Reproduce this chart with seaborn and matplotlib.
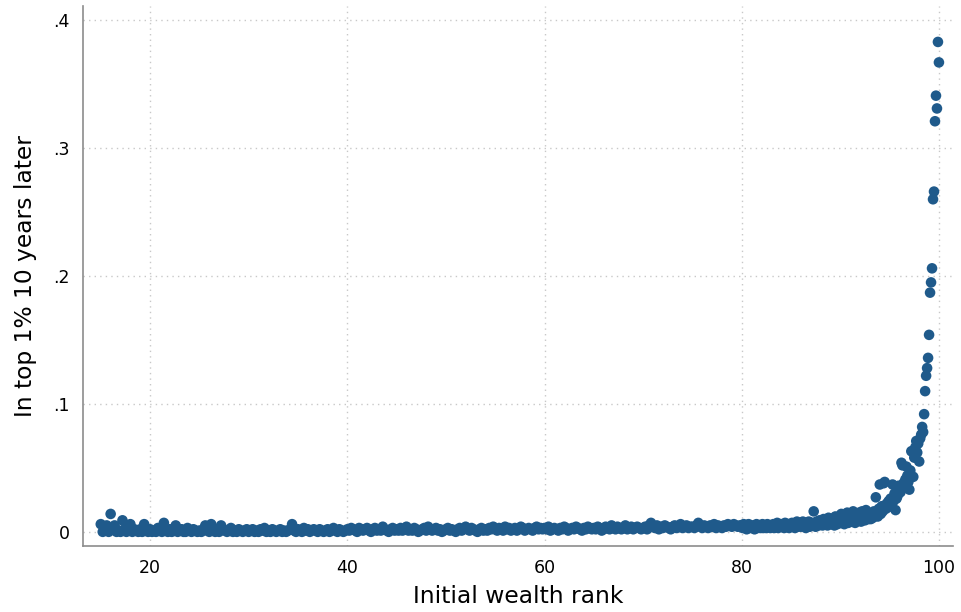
import numpy as np
import pandas as pd
import matplotlib
matplotlib.use("Agg")
import matplotlib.pyplot as plt
import seaborn as sns

# share in top 1% ten years later, in thousandths
# ranks 15.0 - 79.8, every 0.2
low_ranks = np.round(np.arange(15.0, 79.9, 0.2), 1)
low_share = [
    6, 0, 3, 5, 0, 14, 2, 5, 0, 1, 0, 9, 2, 0, 1, 6, 0, 2, 1, 0, 2, 0, 6, 1, 0,
    2, 0, 1, 0, 3, 1, 0, 7, 1, 0, 2, 0, 1, 5, 0, 1, 2, 0, 0, 3, 1, 0, 2, 1, 0,
    1, 0, 2, 5, 1, 0, 6, 2, 0, 1, 0, 5, 2, 1, 0, 1, 3, 0, 1, 0, 2, 1, 0, 1, 2,
    0, 1, 2, 0, 1, 0, 2, 1, 3, 0, 1, 0, 2, 1, 0, 1, 2, 0, 1, 0, 1, 2, 6, 1, 0,
    2, 1, 0, 3, 1, 2, 0, 1, 2, 1, 0, 2, 1, 0, 1, 2, 0, 1, 3, 1, 0, 2, 1, 0, 1,
    2, 1, 3, 2, 1, 0, 3, 2, 1, 2, 3, 1, 0, 2, 3, 1, 2, 1, 4, 2, 1, 0, 2, 3, 1,
    2, 1, 3, 1, 2, 4, 1, 2, 1, 3, 2, 0, 1, 2, 3, 1, 4, 2, 1, 2, 3, 1, 2, 0, 1,
    2, 3, 1, 2, 1, 0, 2, 3, 1, 2, 4, 2, 1, 3, 2, 1, 0, 2, 3, 1, 2, 1, 3, 2, 4,
    2, 1, 3, 2, 1, 4, 2, 3, 1, 2, 3, 1, 2, 4, 3, 1, 2, 3, 2, 1, 3, 4, 2, 3, 2,
    3, 2, 4, 1, 2, 3, 2, 1, 3, 2, 4, 3, 1, 2, 3, 2, 4, 3, 2, 1, 3, 2, 4, 3, 2,
    3, 2, 4, 3, 1, 2, 4, 3, 2, 5, 3, 2, 4, 3, 2, 3, 5, 2, 3, 4, 2, 3, 4, 3, 2,
    3, 4, 2, 5, 7, 4, 3, 5, 2, 4, 3, 5, 4, 3, 2, 4, 5, 3, 4, 6, 3, 4, 5, 3, 4,
    4, 3, 5, 7, 4, 3, 5, 4, 3, 5, 4, 6, 3, 5, 4, 3, 5, 4, 6, 5, 4, 6, 5, 4, 5,
]

# ranks 80.0 - 100.0, every 0.1
high_ranks = np.round(np.arange(80.0, 100.05, 0.1), 1)
high_share = [
    5, 3, 6, 4, 5, 2, 4, 6, 3, 5,
    4, 3, 5, 2, 4, 6, 3, 4, 5, 3,
    4, 6, 3, 5, 4, 3, 6, 4, 5, 3,
    5, 4, 6, 3, 5, 4, 7, 3, 5, 4,
    6, 4, 5, 3, 7, 5, 4, 6, 3, 5,
    5, 7, 4, 6, 3, 5, 8, 4, 6, 5,
    4, 6, 8, 5, 7, 3, 6, 5, 8, 4,
    6, 7, 5, 16, 6, 4, 8, 7, 5, 9,
    6, 8, 5, 10, 7, 6, 9, 5, 11, 7,
    8, 6, 10, 7, 5, 12, 8, 6, 11, 9,
    7, 14, 8, 10, 6, 12, 9, 15, 7, 11,
    9, 13, 8, 16, 10, 7, 14, 11, 9, 15,
    12, 8, 16, 10, 13, 9, 17, 11, 14, 10,
    12, 10, 14, 11, 16, 13, 27, 15, 12, 18,
    37, 14, 20, 16, 38, 39, 18, 22, 19, 24,
    21, 26, 22, 37, 24, 30, 17, 26, 28, 36,
    34, 31, 54, 52, 38, 35, 41, 51, 44, 39,
    33, 48, 63, 63, 43, 58, 66, 71, 62, 69,
    55, 73, 76, 82, 78, 92, 110, 122, 128, 136,
    154, 187, 195, 206, 260, 266, 321, 341, 331, 383,
    367,
]

x_ticks = [20, 40, 60, 80, 100]
y_ticks = [0, 0.1, 0.2, 0.3, 0.4]
y_tick_labels = ["0", ".1", ".2", ".3", ".4"]

df = pd.DataFrame({
    "rank": np.concatenate([low_ranks, high_ranks]),
    "share": np.array(low_share + high_share) / 1000,
})

sns.set_style("white")
plt.rcParams["font.family"] = ["DejaVu Sans"]
plt.rcParams["text.color"] = "black"
plt.rcParams["axes.labelcolor"] = "black"

fig = plt.figure(figsize=(9.61, 6.12), dpi=100)
ax = fig.add_axes([0.0864, 0.108, 0.905, 0.882])

sns.scatterplot(data=df, x="rank", y="share", color="#1f5a8b", s=58,
                edgecolor="none", linewidth=0, ax=ax, zorder=3)

ax.set_xlim(13.2, 101.4)
ax.set_ylim(-0.011, 0.411)
ax.set_xticks(x_ticks)
ax.set_yticks(y_ticks)
ax.set_yticklabels(y_tick_labels)

ax.grid(True, linestyle=(0, (1, 3)), color="#c8c8c8", linewidth=1)
for side in ["top", "right"]:
    ax.spines[side].set_visible(False)
for side in ["left", "bottom"]:
    ax.spines[side].set_color("#8c8c8c")
    ax.spines[side].set_linewidth(1.2)

ax.tick_params(axis="both", which="major", direction="out", length=6,
               width=1, color="#8c8c8c", labelsize=12.5, labelcolor="black")

ax.set_xlabel("Initial wealth rank", fontsize=16.8, labelpad=6)
ax.set_ylabel("In top 1% 10 years later", fontsize=16.8, labelpad=12)

fig.savefig("out.png", dpi=100)
